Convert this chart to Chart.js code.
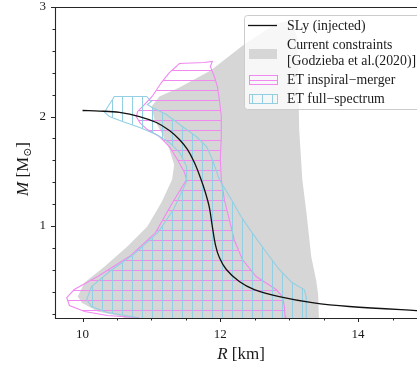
<!DOCTYPE html>
<html>
<head>
<meta charset="utf-8">
<script src="https://cdn.jsdelivr.net/npm/chart.js@4.4.1/dist/chart.umd.min.js"></script>
<style>
  html, body { margin: 0; padding: 0; background: #fff; overflow: hidden; }
  #wrap { width: 427px; height: 365px; }
</style>
</head>
<body>
<div id="wrap"><canvas id="mr" width="427" height="365"></canvas></div>
<script>
// SLy mass-radius curve (R in km, M in Msun)
const slyR = [10.0, 10.246, 10.536, 10.826, 11.072, 11.261, 11.406, 11.522, 11.623, 11.710, 11.783, 11.841, 11.884, 11.928, 11.986, 12.087, 12.275, 12.493, 12.855, 13.333, 13.870, 14.841, 15.174];
const slyM = [2.055, 2.050, 2.037, 2.0, 1.945, 1.872, 1.790, 1.699, 1.580, 1.443, 1.306, 1.169, 0.995, 0.831, 0.712, 0.603, 0.493, 0.420, 0.356, 0.301, 0.265, 0.228, 0.219];

// current constraints (closed contour)
const grayR = [12.97, 13.08, 13.12, 13.13, 13.13, 13.145, 13.19, 13.25, 13.32, 13.39, 13.42, 13.43, 13.44, 10.9, 10.57, 10.22, 9.99, 9.93, 10.03, 10.32, 10.65, 10.94, 11.145, 11.30, 11.33, 11.26, 11.159, 11.043, 11.0, 11.116, 11.406, 11.86, 12.35, 12.81, 12.97];
const grayM = [2.87, 2.80, 2.70, 2.50, 2.34, 1.88, 1.425, 1.12, 0.72, 0.51, 0.374, 0.164, 0.05, 0.05, 0.174, 0.219, 0.30, 0.356, 0.484, 0.63, 0.813, 0.995, 1.215, 1.425, 1.56, 1.70, 1.836, 1.973, 2.091, 2.183, 2.265, 2.42, 2.66, 2.85, 2.87];

// ET inspiral-merger contour
const magR = [11.377, 11.406, 11.768, 11.884, 11.855, 11.913, 11.957, 11.986, 12.014, 12.014, 12.0, 12.014, 12.058, 12.13, 12.20, 12.32, 12.52, 12.81, 12.90, 12.93, 12.94, 12.95, 10.9, 10.80, 10.36, 10.03, 9.81, 9.77, 9.88, 10.22, 10.68, 11.06, 11.29, 11.51, 11.48, 11.377, 11.26, 11.116, 10.94, 10.83, 10.78, 10.80, 10.87, 11.01, 11.145, 11.26, 11.377];
const magM = [2.466, 2.484, 2.493, 2.502, 2.457, 2.365, 2.274, 2.155, 2.0, 1.817, 1.607, 1.425, 1.242, 1.06, 0.877, 0.694, 0.539, 0.42, 0.356, 0.265, 0.174, 0.13, 0.13, 0.164, 0.183, 0.219, 0.274, 0.347, 0.42, 0.539, 0.721, 0.94, 1.196, 1.425, 1.489, 1.607, 1.726, 1.817, 1.881, 1.945, 2.0, 2.046, 2.091, 2.183, 2.31, 2.40, 2.466];

// ET full-spectrum contour
const cyanR = [10.435, 10.46, 10.93, 11.0, 10.94, 11.01, 11.217, 11.45, 11.65, 11.80, 11.884, 11.986, 12.16, 12.30, 12.46, 12.67, 12.855, 13.04, 13.217, 13.246, 13.246, 13.25, 11.0, 10.71, 10.36, 10.13, 10.06, 10.13, 10.41, 10.74, 11.09, 11.32, 11.51, 11.51, 11.41, 11.26, 11.07, 10.83, 10.58, 10.39, 10.32, 10.36, 10.435];
const cyanM = [2.155, 2.183, 2.183, 2.137, 2.11, 2.082, 2.018, 1.909, 1.817, 1.726, 1.607, 1.425, 1.242, 1.087, 0.94, 0.758, 0.603, 0.484, 0.42, 0.356, 0.174, 0.13, 0.13, 0.174, 0.21, 0.265, 0.329, 0.447, 0.594, 0.74, 0.94, 1.15, 1.406, 1.543, 1.671, 1.763, 1.836, 1.90, 1.954, 2.0, 2.037, 2.082, 2.155];

const xMajor = [10, 12, 14];
const xMinor = [10.5, 11, 11.5, 12.5, 13, 13.5, 14.5];
const yMajor = [1, 2, 3];
const yMinor = [0.2, 0.4, 0.6, 0.8, 1.2, 1.4, 1.6, 1.8, 2.2, 2.4, 2.6, 2.8];
const xRange = [9.6, 15.0];
const yRange = [0.16, 3.0];

const legendText = ['SLy (injected)', 'Current constraints', '[Godzieba et al.(2020)]', 'ET inspiral\u2212merger', 'ET full\u2212spectrum'];

const SERIF = "'Liberation Serif', 'DejaVu Serif', serif";
const MAGENTA = '#f08af0';
const CYAN = '#93cfe3';
const GRAY = '#d6d6d6';

function pts(xs, ys) {
    return xs.map((v, i) => ({x: v, y: ys[i]}));
}

function hatch(color, vertical) {
    let c = document.createElement('canvas');
    c.width = 10; c.height = 10;
    let g = c.getContext('2d');
    g.fillStyle = color;
    if (vertical) g.fillRect(2, 0, 1, 10);
    else g.fillRect(0, 0, 10, 1);
    return g.createPattern(c, 'repeat');
}

const magHatch = hatch(MAGENTA, false);
const cyanHatch = hatch(CYAN, true);

function drawTicks(ctx, scale, vals, len, horizontal, a) {
    ctx.beginPath();
    vals.forEach(v => {
        let p = Math.round(scale.getPixelForValue(v)) + 0.5;
        if (horizontal) { ctx.moveTo(p, a.bottom); ctx.lineTo(p, a.bottom + len); }
        else { ctx.moveTo(a.left, p); ctx.lineTo(a.left - len, p); }
    });
    ctx.stroke();
}

function drawParts(ctx, parts, cx, baseY) {
    let total = 0;
    parts.forEach(p => { ctx.font = p.f; p.w = ctx.measureText(p.t).width; total += p.w; });
    let x = cx - total / 2;
    parts.forEach(p => {
        ctx.font = p.f;
        ctx.fillText(p.t, x, baseY + (p.dy || 0));
        x += p.w;
    });
}

const framePlugin = {
    id: 'frame',
    afterDraw(chart) {
        const {ctx, chartArea: a, scales} = chart;
        ctx.save();
        // spines
        ctx.strokeStyle = '#262626';
        ctx.lineWidth = 1.1;
        ctx.beginPath();
        ctx.moveTo(a.right, a.top + 0.5);
        ctx.lineTo(a.left + 0.5, a.top + 0.5);
        ctx.lineTo(a.left + 0.5, a.bottom + 0.5);
        ctx.lineTo(a.right, a.bottom + 0.5);
        ctx.lineTo(a.right, a.top + 0.5);
        ctx.stroke();
        // ticks
        ctx.lineWidth = 1;
        drawTicks(ctx, scales.x, xMajor, 4, true, a);
        drawTicks(ctx, scales.x, xMinor, 2.5, true, a);
        drawTicks(ctx, scales.y, yMajor, 4, false, a);
        drawTicks(ctx, scales.y, yMinor, 2.5, false, a);

        // axis titles
        ctx.fillStyle = '#1a1a1a';
        ctx.textBaseline = 'alphabetic';
        drawParts(ctx, [
            {t: 'R', f: 'italic 17px ' + SERIF},
            {t: ' [km]', f: '17px ' + SERIF}
        ], (a.left + a.right) / 2, 359);

        ctx.save();
        ctx.translate(28, 169);
        ctx.rotate(-Math.PI / 2);
        drawParts(ctx, [
            {t: 'M', f: 'italic 17px ' + SERIF},
            {t: ' [M', f: '17px ' + SERIF},
            {t: '\u2299', f: '11px ' + SERIF, dy: 3},
            {t: ']', f: '17px ' + SERIF}
        ], 0, 0);
        ctx.restore();

        // legend
        let lx = 244.5, ly = 15.5, lw = 190, lh = 94, r = 3;
        ctx.beginPath();
        ctx.moveTo(lx + r, ly);
        ctx.arcTo(lx + lw, ly, lx + lw, ly + lh, r);
        ctx.arcTo(lx + lw, ly + lh, lx, ly + lh, r);
        ctx.arcTo(lx, ly + lh, lx, ly, r);
        ctx.arcTo(lx, ly, lx + lw, ly, r);
        ctx.closePath();
        ctx.fillStyle = 'rgba(255,255,255,0.8)';
        ctx.fill();
        ctx.strokeStyle = '#cccccc';
        ctx.lineWidth = 1;
        ctx.stroke();

        ctx.strokeStyle = '#111';
        ctx.lineWidth = 1.3;
        ctx.beginPath();
        ctx.moveTo(248, 25.5);
        ctx.lineTo(277, 25.5);
        ctx.stroke();

        ctx.fillStyle = GRAY;
        ctx.fillRect(249, 49, 28, 10);

        ctx.lineWidth = 1;
        ctx.fillStyle = magHatch;
        ctx.fillRect(249, 75, 28, 9);
        ctx.strokeStyle = MAGENTA;
        ctx.strokeRect(249.5, 75.5, 28, 9);

        ctx.fillStyle = cyanHatch;
        ctx.fillRect(249, 94, 28, 9);
        ctx.strokeStyle = CYAN;
        ctx.strokeRect(249.5, 94.5, 28, 9);

        ctx.fillStyle = '#1a1a1a';
        ctx.font = '13.8px ' + SERIF;
        ctx.textBaseline = 'middle';
        ctx.textAlign = 'left';
        let ys = [26, 45.5, 61, 80, 99];
        legendText.forEach((t, i) => ctx.fillText(t, 287, ys[i]));
        ctx.restore();
    }
};

new Chart(document.getElementById('mr'), {
    type: 'scatter',
    data: {
        datasets: [{
            label: legendText[0],
            data: pts(slyR, slyM),
            showLine: true,
            borderColor: '#111',
            borderWidth: 1.3,
            pointRadius: 0,
            tension: 0.35,
            fill: false
        }, {
            label: legendText[4],
            data: pts(cyanR, cyanM),
            showLine: true,
            borderColor: CYAN,
            borderWidth: 1.1,
            backgroundColor: cyanHatch,
            pointRadius: 0,
            tension: 0,
            fill: 'shape'
        }, {
            label: legendText[3],
            data: pts(magR, magM),
            showLine: true,
            borderColor: MAGENTA,
            borderWidth: 1.1,
            backgroundColor: magHatch,
            pointRadius: 0,
            tension: 0,
            fill: 'shape'
        }, {
            label: legendText[1],
            data: pts(grayR, grayM),
            showLine: true,
            borderColor: 'rgba(0,0,0,0)',
            borderWidth: 0,
            backgroundColor: GRAY,
            pointRadius: 0,
            tension: 0,
            fill: 'shape'
        }]
    },
    options: {
        responsive: false,
        animation: false,
        layout: {padding: {top: 7, left: 0, right: 0, bottom: 0}},
        plugins: {
            legend: {display: false},
            tooltip: {enabled: false}
        },
        scales: {
            x: {
                type: 'linear',
                min: xRange[0],
                max: xRange[1],
                afterBuildTicks: s => { s.ticks = xMajor.map(v => ({value: v})); },
                afterFit: s => { s.height = 47; s.paddingLeft = 0; s.paddingRight = 0; },
                grid: {display: false, drawTicks: false},
                border: {display: false},
                ticks: {
                    padding: 9,
                    color: '#1a1a1a',
                    font: {family: SERIF, size: 13},
                    callback: v => String(v)
                }
            },
            y: {
                type: 'linear',
                min: yRange[0],
                max: yRange[1],
                afterBuildTicks: s => { s.ticks = yMajor.map(v => ({value: v})); },
                afterFit: s => { s.width = 55; s.paddingTop = 0; s.paddingBottom = 0; },
                grid: {display: false, drawTicks: false},
                border: {display: false},
                ticks: {
                    padding: 9,
                    color: '#1a1a1a',
                    font: {family: SERIF, size: 13},
                    callback: v => String(v)
                }
            }
        }
    },
    plugins: [framePlugin]
});
</script>
</body>
</html>
